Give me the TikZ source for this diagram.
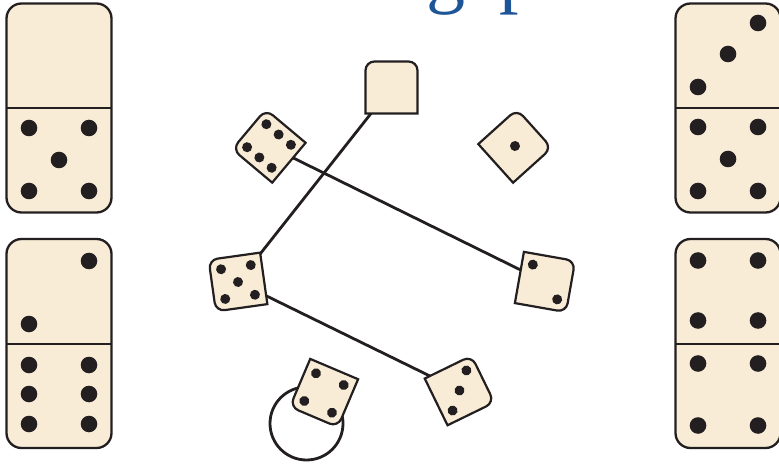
\documentclass[tikz,border=0pt]{standalone}
\usepackage{fontspec}
\setmainfont{Liberation Serif}
\definecolor{osso}{RGB}{248,236,214}
\definecolor{bordo}{RGB}{35,31,32}
\definecolor{titolo}{RGB}{30,85,150}
\tikzset{
  domino/.style = {draw=bordo, line width=2.3pt, fill=osso, rounded corners=15pt},
  tile/.style   = {draw=bordo, line width=2.2pt, fill=osso},
  pip/.style    = {fill=bordo},
  link/.style   = {draw=bordo, line width=2.8pt},
  head/.style   = {text=titolo, font=\fontsize{78}{80}\selectfont, inner sep=0, anchor=base west}
}
% mezza tessera: centro, rotazione, punti
\newcommand\halftile[3]{%
  \begin{scope}[shift={(#1)}, rotate=#2]
    \filldraw[tile] (-26,-26) -- (-26,17) arc[start angle=180, end angle=90, radius=9pt]
      -- (17,26) arc[start angle=90, end angle=0, radius=9pt] -- (26,-26) -- cycle;
    \if\relax\detokenize{#3}\relax\else
      \foreach \p in {#3} \fill[pip] \p circle[radius=5pt];
    \fi
  \end{scope}}
% tessera intera: centro, punti
\newcommand\fulldomino[2]{%
  \begin{scope}[shift={(#1)}]
    \draw[domino] (-52.5,-104.5) rectangle (52.5,104.5);
    \draw[bordo, line width=2pt] (-52.5,0) -- (52.5,0);
    \foreach \p in {#2} \fill[pip] \p circle[radius=8.3pt];
  \end{scope}}

\begin{document}
\begin{tikzpicture}[x=1pt, y=1pt]
  \useasboundingbox (0,0) rectangle (779,464);
  \node[head] (title) at (426,465) {gap};

  % vertici del grafo
  \coordinate (t0) at (391.5,376.5);
  \coordinate (t1) at (515,318);
  \coordinate (t2) at (545,182);
  \coordinate (t3) at (459.5,73.5);
  \coordinate (t4) at (324,71);
  \coordinate (t5) at (238,182);
  \coordinate (t6) at (269,318);

  \draw[link] (t0) -- (t5);
  \draw[link] (t6) -- (t2);
  \draw[link] (t5) -- (t3);
  \draw[link] ([shift={(-17.5,-30.5)}]t4) circle[radius=36.5];

  \halftile{t0}{0}{}
  \halftile{t1}{-48}{(0,0)}
  \halftile{t2}{-100}{(15,15),(-15,-15)}
  \halftile{t3}{-64}{(-15,15),(0,0),(15,-15)}
  \halftile{t4}{157}{(-15,15),(15,15),(-15,-15),(15,-15)}
  \halftile{t5}{98}{(-15,15),(15,15),(0,0),(-15,-15),(15,-15)}
  \halftile{t6}{50}{(-15,16),(-15,0),(-15,-16),(15,16),(15,0),(15,-16)}

  % tessere ai lati
  \fulldomino{59,356}{(-30,-20),(30,-20),(0,-52),(-30,-83),(30,-83)}
  \fulldomino{59,120.5}{(30,82.5),(-30,19.5),(-30,-21.5),(30,-21.5),(-30,-50.5),(30,-50.5),(-30,-80.5),(30,-80.5)}
  \fulldomino{728,356}{(30,85),(0,54),(-30,21),(-30,-19),(30,-19),(0,-51),(-30,-83),(30,-83)}
  \fulldomino{728,120.5}{(-30,83),(30,83),(-30,23),(30,23),(-30,-20),(30,-20),(-30,-82),(30,-82)}
\end{tikzpicture}
\end{document}
